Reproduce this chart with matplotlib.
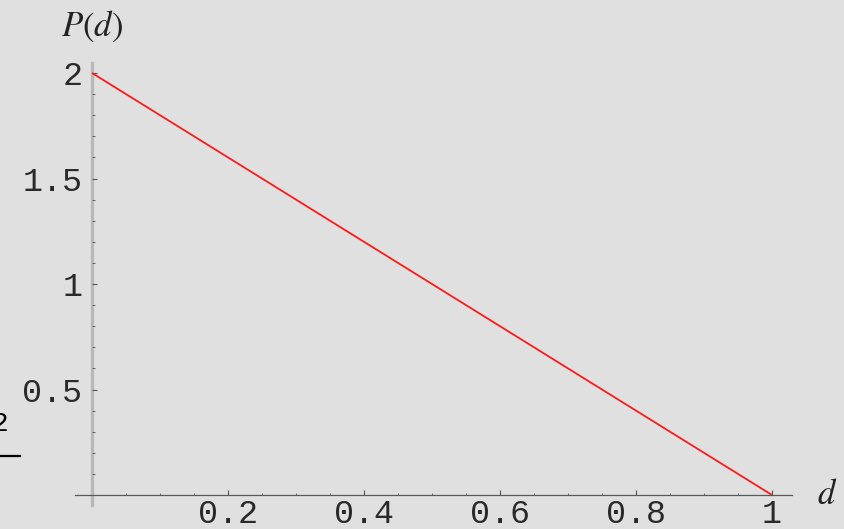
import matplotlib
matplotlib.use("Agg")
import matplotlib.pyplot as plt
from matplotlib.ticker import FixedLocator
import numpy as np

plt.rcParams['mathtext.fontset'] = 'stix'

# Data
d_values = [0.0, 1.0]
p_values = [2.0, 0.0]
x_major = [0.2, 0.4, 0.6, 0.8, 1.0]
x_labels = ["0.2", "0.4", "0.6", "0.8", "1"]
x_minor = [0.05, 0.1, 0.15, 0.25, 0.3, 0.35, 0.45, 0.5, 0.55, 0.65, 0.7, 0.75, 0.85, 0.9, 0.95]
y_major = [0.5, 1.0, 1.5, 2.0]
y_labels = ["0.5", "1", "1.5", "2"]
y_minor = [0.1, 0.2, 0.3, 0.4, 0.6, 0.7, 0.8, 0.9, 1.1, 1.2, 1.3, 1.4, 1.6, 1.7, 1.8, 1.9]

bg = '#e0e0e0'
fig = plt.figure(figsize=(8.44, 5.29), dpi=100, facecolor=bg)
ax = fig.add_axes([0, 0, 1, 1], facecolor=bg)

ax.plot(d_values, p_values, color='#ff1a1a', lw=1.3, solid_capstyle='butt', zorder=3)

ax.set_xlim(-0.1353, 1.1059)
ax.set_ylim(-0.1611, 2.346)

for s in ['top', 'right']:
    ax.spines[s].set_visible(False)
ax.spines['left'].set_position(('data', 0))
ax.spines['bottom'].set_position(('data', 0))
ax.spines['left'].set_bounds(-0.047, 2.047)
ax.spines['bottom'].set_bounds(-0.025, 1.029)
ax.spines['left'].set_color('#b8b8b8')
ax.spines['left'].set_linewidth(2.4)
ax.spines['bottom'].set_color('#5a5a5a')
ax.spines['bottom'].set_linewidth(0.9)
ax.spines['left'].set_zorder(1)

ax.xaxis.set_major_locator(FixedLocator(x_major))
ax.xaxis.set_minor_locator(FixedLocator(x_minor))
ax.yaxis.set_major_locator(FixedLocator(y_major))
ax.yaxis.set_minor_locator(FixedLocator(y_minor))
ax.set_xticklabels(x_labels)
ax.set_yticklabels(y_labels)

ax.tick_params(axis='x', which='major', direction='in', length=3.5, width=0.8, color='#555555', pad=3,
               labelsize=24, labelcolor='#2a2a2a')
ax.tick_params(axis='x', which='minor', direction='in', length=1.8, width=0.7, color='#666666')
ax.tick_params(axis='y', which='major', direction='in', length=3.5, width=0.8, color='#555555', pad=7,
               labelsize=24, labelcolor='#2a2a2a')
ax.tick_params(axis='y', which='minor', direction='in', length=1.8, width=0.7, color='#666666')
for lab in ax.get_xticklabels() + ax.get_yticklabels():
    lab.set_fontfamily('Liberation Mono')

ax.text(0.0, 2.22, r'$P(d)$', ha='center', va='center', fontsize=25, color='#222222')
ax.text(1.081, 0.005, r'$d$', ha='center', va='center', fontsize=25, color='#222222')

# cropped fragment on the left edge
fig.text(9/844, 1 - 424/529, '2', ha='right', va='center', fontsize=20,
         family='Liberation Mono', color='black')
fig.add_artist(plt.Line2D([0, 20/844], [1 - 456/529, 1 - 456/529], color='black', lw=1.6))

fig.savefig('out.png', dpi=100, facecolor=bg)
